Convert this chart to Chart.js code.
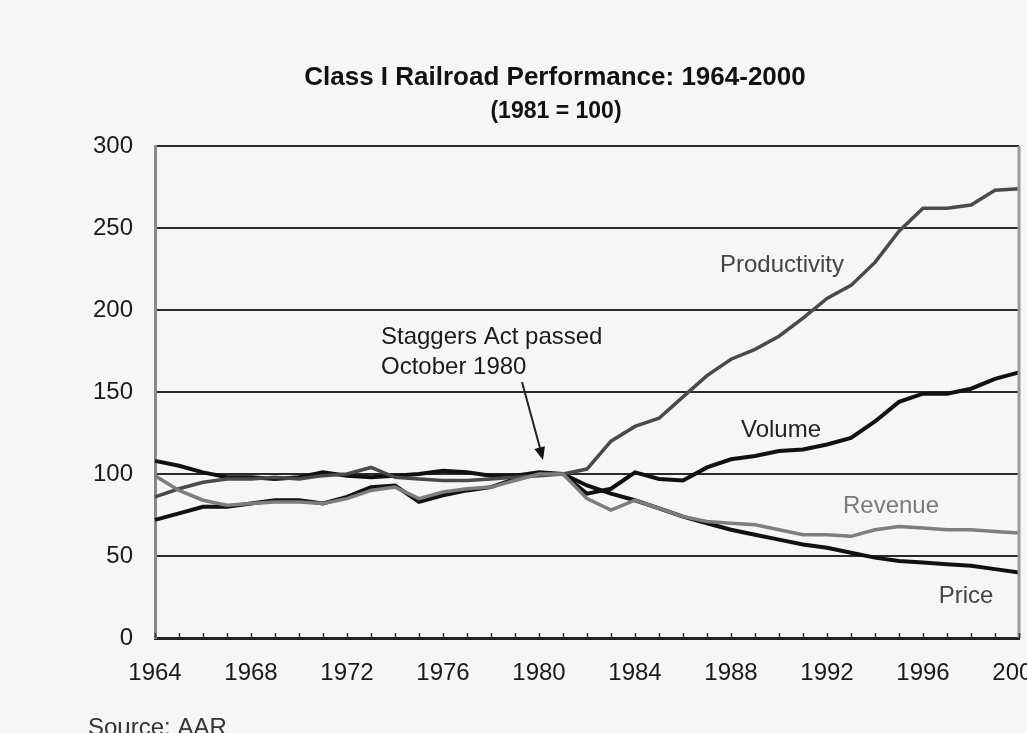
<!DOCTYPE html>
<html><head><meta charset="utf-8">
<script src="https://cdn.jsdelivr.net/npm/chart.js@4.4.0/dist/chart.umd.min.js"></script>
<style>
html,body{margin:0;padding:0;background:#f6f6f6;overflow:hidden;width:1027px;height:733px;}
#wrap{position:absolute;left:0;top:0;width:1100px;height:733px;}
</style></head><body>
<div id="wrap"><canvas id="c" width="1100" height="733"></canvas></div>
<script>
const years = ['1964','1965','1966','1967','1968','1969','1970','1971','1972','1973','1974','1975','1976','1977','1978','1979','1980','1981','1982','1983','1984','1985','1986','1987','1988','1989','1990','1991','1992','1993','1994','1995','1996','1997','1998','1999','2000'];
const tickYears = ['1964','1968','1972','1976','1980','1984','1988','1992','1996','2000'];
const yTicks = [0, 50, 100, 150, 200, 250, 300];
const productivity = [86, 91, 95, 97, 97, 98, 97, 99, 100, 104, 98, 97, 96, 96, 97, 98, 99, 100, 103, 120, 129, 134, 147, 160, 170, 176, 184, 195, 207, 215, 229, 248, 262, 262, 264, 273, 274];
const volume = [72, 76, 80, 80, 82, 84, 84, 82, 86, 92, 93, 83, 87, 90, 92, 97, 100, 100, 88, 91, 101, 97, 96, 104, 109, 111, 114, 115, 118, 122, 132, 144, 149, 149, 152, 158, 162];
const revenue = [99, 90, 84, 81, 82, 83, 83, 82, 85, 90, 92, 85, 89, 91, 92, 96, 100, 100, 85, 78, 84, 79, 74, 71, 70, 69, 66, 63, 63, 62, 66, 68, 67, 66, 66, 65, 64];
const price = [108, 105, 101, 98, 98, 97, 98, 101, 99, 98, 99, 100, 102, 101, 99, 99, 101, 100, 93, 88, 84, 79, 74, 70, 66, 63, 60, 57, 55, 52, 49, 47, 46, 45, 44, 42, 40];
const seriesNames = ['Productivity', 'Volume', 'Revenue', 'Price'];
const titleText = 'Class I Railroad Performance: 1964-2000';
const subtitleText = '(1981 = 100)';
const annotationLines = ['Staggers Act passed', 'October 1980'];
const sourceText = 'Source: AAR';

const FONT = '"Liberation Sans", Arial, Helvetica, sans-serif';

const decor = {
  id: 'decor',
  beforeDraw(chart) {
    const ctx = chart.ctx;
    ctx.save();
    ctx.fillStyle = '#f6f6f6';
    ctx.fillRect(0, 0, chart.width, chart.height);
    ctx.restore();
  },
  afterDatasetsDraw(chart) {
    const ctx = chart.ctx;
    const a = chart.chartArea;
    const xs = chart.scales.x;
    ctx.save();
    // right border
    ctx.strokeStyle = '#9a9a9a';
    ctx.lineWidth = 3;
    ctx.beginPath(); ctx.moveTo(a.right, a.top); ctx.lineTo(a.right, a.bottom); ctx.stroke();
    // inward ticks on bottom axis
    ctx.strokeStyle = '#333';
    ctx.lineWidth = 1.5;
    for (let i = 0; i < years.length; i++) {
      const px = Math.round(xs.getPixelForValue(i)) + 0.5;
      ctx.beginPath(); ctx.moveTo(px, a.bottom); ctx.lineTo(px, a.bottom - 5); ctx.stroke();
    }
    // titles
    ctx.fillStyle = '#111';
    ctx.textAlign = 'center';
    ctx.textBaseline = 'middle';
    ctx.font = 'bold 26px ' + FONT;
    ctx.fillText(titleText, 555, 78);
    ctx.font = 'bold 23px ' + FONT;
    ctx.fillText(subtitleText, 556, 112);
    // annotation
    ctx.textAlign = 'left';
    ctx.font = '24px ' + FONT;
    ctx.fillStyle = '#1a1a1a';
    ctx.fillText(annotationLines[0], 381, 337);
    ctx.fillText(annotationLines[1], 381, 367);
    // arrow
    const x0 = 522, y0 = 382, x1 = 543, y1 = 460;
    ctx.strokeStyle = '#222';
    ctx.lineWidth = 2;
    ctx.beginPath(); ctx.moveTo(x0, y0); ctx.lineTo(x1 - 3, y1 - 12); ctx.stroke();
    const ang = Math.atan2(y1 - y0, x1 - x0);
    ctx.fillStyle = '#111';
    ctx.beginPath();
    ctx.moveTo(x1, y1);
    ctx.lineTo(x1 - 14 * Math.cos(ang - 0.4), y1 - 14 * Math.sin(ang - 0.4));
    ctx.lineTo(x1 - 14 * Math.cos(ang + 0.4), y1 - 14 * Math.sin(ang + 0.4));
    ctx.closePath(); ctx.fill();
    // series labels
    ctx.textAlign = 'center';
    ctx.font = '24px ' + FONT;
    ctx.fillStyle = '#444'; ctx.fillText(seriesNames[0], 782, 265);
    ctx.fillStyle = '#222'; ctx.fillText(seriesNames[1], 781, 430);
    ctx.fillStyle = '#7a7a7a'; ctx.fillText(seriesNames[2], 891, 506);
    ctx.fillStyle = '#444'; ctx.fillText(seriesNames[3], 966, 596);
    // source
    ctx.textAlign = 'left';
    ctx.fillStyle = '#333';
    ctx.fillText(sourceText, 88, 728);
    ctx.restore();
  }
};

const mk = (label, data, color, width) => ({
  label, data, borderColor: color, backgroundColor: color, borderWidth: width,
  pointRadius: 0, tension: 0, fill: false
});

new Chart(document.getElementById('c'), {
  type: 'line',
  data: {
    labels: years,
    datasets: [
      mk(seriesNames[2], revenue, '#7d7d7d', 3.5),
      mk(seriesNames[0], productivity, '#4a4a4a', 3.5),
      mk(seriesNames[1], volume, '#111', 4),
      mk(seriesNames[3], price, '#111', 4)
    ]
  },
  options: {
    responsive: false,
    devicePixelRatio: 1,
    animation: false,
    layout: { padding: { left: 0, top: 146, right: 81, bottom: 0 } },
    plugins: { legend: { display: false }, tooltip: { enabled: false }, title: { display: false } },
    scales: {
      x: {
        type: 'category',
        offset: false,
        grid: { display: false, drawTicks: false },
        border: { display: true, color: '#222', width: 3 },
        ticks: {
          autoSkip: false, maxRotation: 0, padding: 21, color: '#1a1a1a',
          font: { family: FONT, size: 24 },
          callback: function (v, i) { const l = years[i]; return tickYears.includes(l) ? l : null; }
        },
        afterFit(s) { s.height = 95; }
      },
      y: {
        min: 0, max: 300,
        afterBuildTicks(s) { s.ticks = yTicks.map(v => ({ value: v })); },
        grid: { color: (c) => c.tick.value === 0 ? 'rgba(0,0,0,0)' : '#2a2a2a', lineWidth: 2, drawTicks: false },
        border: { display: true, color: '#8a8a8a', width: 3 },
        ticks: { padding: 22, color: '#1a1a1a', font: { family: FONT, size: 24 } },
        afterFit(s) { s.width = 155; }
      }
    }
  },
  plugins: [decor]
});
</script>
</body></html>
